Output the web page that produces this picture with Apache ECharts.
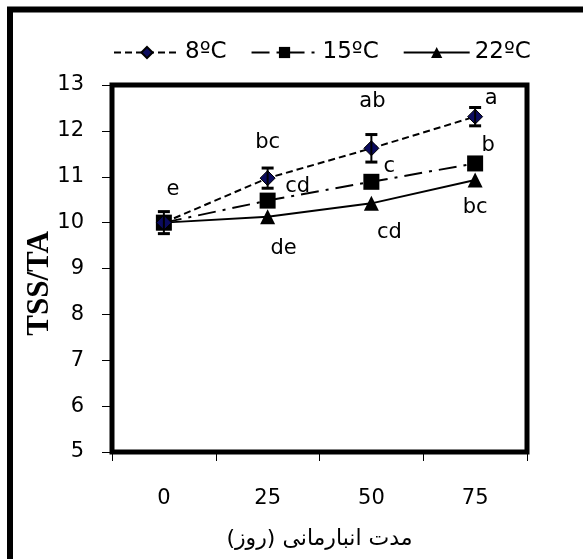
<!DOCTYPE html>
<html>
<head>
<meta charset="utf-8">
<script src="https://cdn.jsdelivr.net/npm/echarts@6/dist/echarts.min.js"></script>
<style>html,body{margin:0;padding:0;background:#fff}#c{width:583px;height:559px}</style>
</head>
<body>
<div id="c"></div>
<script>
var categories = ['0', '25', '50', '75'];
var seriesNames = ['8ºC', '15ºC', '22ºC'];
var values8 = [10.0, 10.97, 11.62, 12.31];
var errors8 = [0.24, 0.22, 0.30, 0.20];
var values15 = [10.0, 10.48, 10.89, 11.29];
var values22 = [10.0, 10.13, 10.42, 10.93];
var letters8 = ['e', 'bc', 'ab', 'a'];
var letters15 = ['', 'cd', 'c', 'b'];
var letters22 = ['', 'de', 'cd', 'bc'];
var yTicks = [5, 6, 7, 8, 9, 10, 11, 12, 13];
var xTitle = 'مدت انبارمانی (روز)';
var yTitle = 'TSS/TA';

var FONT = 'DejaVu Sans';
var chart = echarts.init(document.getElementById('c'), null, {renderer: 'canvas'});

function withLabels(vals, letters, offsets) {
  return vals.map(function (v, i) {
    var item = {value: v};
    if (letters[i]) {
      item.label = {show: true, formatter: letters[i], position: 'inside', offset: offsets[i],
        color: '#000', fontFamily: FONT, fontSize: 21};
    }
    return item;
  });
}

var errData = values8.map(function (v, i) { return [i, v - errors8[i], v + errors8[i]]; });

chart.setOption({
  animation: false,
  backgroundColor: '#fff',
  graphic: [
    {type: 'line', shape: {x1: 7, y1: 9.5, x2: 583, y2: 9.5}, style: {stroke: '#000', lineWidth: 6}},
    {type: 'line', shape: {x1: 10, y1: 7, x2: 10, y2: 559}, style: {stroke: '#000', lineWidth: 6}}
  ],
  legend: {
    data: seriesNames,
    left: 108, top: 36,
    itemWidth: 66, itemHeight: 14, itemGap: 24,
    textStyle: {fontFamily: FONT, fontSize: 23, color: '#000'}
  },
  grid: {left: 112, right: 56, top: 85, bottom: 107, show: true, borderColor: '#000', borderWidth: 5, backgroundColor: 'transparent'},
  xAxis: {
    type: 'category', data: categories, boundaryGap: true,
    axisLine: {show: false},
    axisTick: {show: true, length: 9, lineStyle: {color: '#000', width: 1}},
    axisLabel: {margin: 36, fontFamily: FONT, fontSize: 21, color: '#000'},
    name: xTitle, nameLocation: 'middle', nameGap: 76,
    nameTextStyle: {fontFamily: FONT, fontSize: 22, color: '#000'}
  },
  yAxis: {
    type: 'value', min: yTicks[0], max: yTicks[yTicks.length - 1], interval: 1,
    splitLine: {show: false},
    axisLine: {show: false},
    axisTick: {show: true, length: 10, lineStyle: {color: '#000', width: 1}},
    axisLabel: {margin: 28, fontFamily: FONT, fontSize: 21, color: '#000'},
    name: yTitle, nameLocation: 'middle', nameGap: 57, nameRotate: 90, nameMoveOverlap: false,
    nameTextStyle: {fontFamily: 'Liberation Serif', fontWeight: 'bold', fontSize: 31, color: '#000', padding: [0, 30, 0, 0]}
  },
  series: [
    {
      name: seriesNames[0], type: 'line', z: 5,
      data: withLabels(values8, letters8, [[9, -33], [0, -36], [1, -47], [16, -18]]),
      symbol: 'diamond', symbolSize: 15,
      itemStyle: {color: '#0b0b5e', borderColor: '#000', borderWidth: 1},
      lineStyle: {color: '#000', width: 2, type: [7, 4]}
    },
    {
      name: seriesNames[1], type: 'line', z: 4,
      data: withLabels(values15, letters15, [[0, 0], [30, -14], [18, -15], [13, -18]]),
      symbol: 'rect', symbolSize: 16,
      itemStyle: {color: '#000'},
      lineStyle: {color: '#000', width: 2, type: [18, 7, 3, 7]}
    },
    {
      name: seriesNames[2], type: 'line', z: 3,
      data: withLabels(values22, letters22, [[0, 0], [16, 32], [18, 29], [0, 28]]),
      symbol: 'triangle', symbolSize: 15,
      itemStyle: {color: '#000'},
      lineStyle: {color: '#000', width: 2}
    },
    {
      type: 'custom', z: 6, silent: true,
      data: errData,
      renderItem: function (params, api) {
        var x = api.value(0);
        var lo = api.coord([x, api.value(1)]);
        var hi = api.coord([x, api.value(2)]);
        var w = 6;
        return {
          type: 'group',
          children: [
            {type: 'line', shape: {x1: lo[0], y1: lo[1], x2: hi[0], y2: hi[1]}, style: {stroke: '#000', lineWidth: 2}},
            {type: 'line', shape: {x1: lo[0] - w, y1: lo[1], x2: lo[0] + w, y2: lo[1]}, style: {stroke: '#000', lineWidth: 3}},
            {type: 'line', shape: {x1: hi[0] - w, y1: hi[1], x2: hi[0] + w, y2: hi[1]}, style: {stroke: '#000', lineWidth: 3}}
          ]
        };
      }
    }
  ]
});
</script>
</body>
</html>
